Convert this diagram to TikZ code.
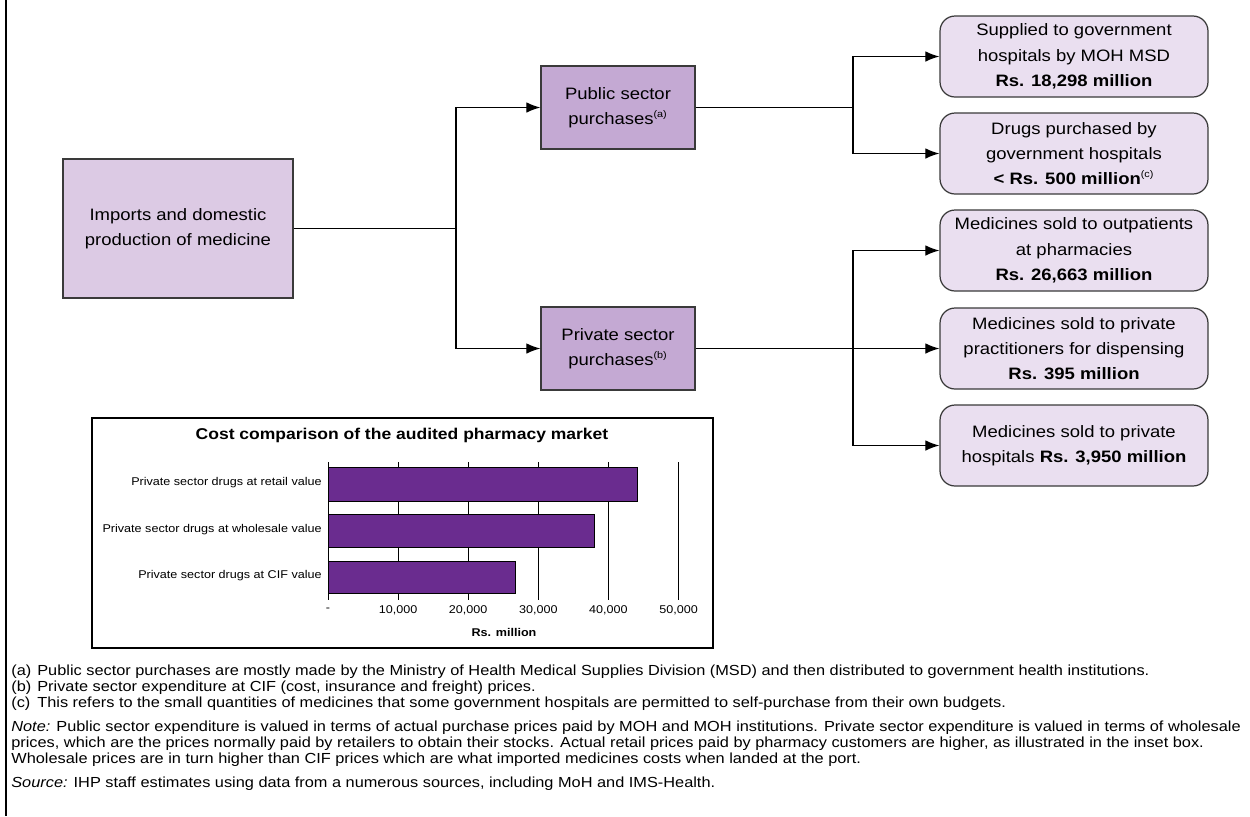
\documentclass[tikz,border=0pt]{standalone}
\usepackage{fontspec}
\setmainfont{Liberation Sans}[FakeStretch=1.12]
\usetikzlibrary{positioning,arrows.meta,calc}
\definecolor{srcfill}{HTML}{DCCAE4}
\definecolor{secfill}{HTML}{C4A9D3}
\definecolor{outfill}{HTML}{EADFF0}
\definecolor{barfill}{HTML}{6A2C8F}
\definecolor{boxline}{HTML}{3A3A3A}
\newcommand{\fnmark}[1]{\textsuperscript{\fontsize{5.5}{6}\selectfont(#1)}}
\tikzset{
    flow/.style = {
        draw=boxline,
        align=center,
        line width=0.7pt,
        inner sep=2pt,
        font=\fontsize{9.4}{14.4}\selectfont
    },
    srcbox/.style = {
        flow,
        fill=srcfill,
        minimum width=4.6cm,
        minimum height=2.78cm
    },
    sectorbox/.style = {
        flow,
        fill=secfill,
        minimum width=3.08cm,
        minimum height=1.66cm
    },
    outbox/.style = {
        flow,
        fill=outfill,
        rounded corners=0.3cm,
        minimum width=5.36cm,
        minimum height=1.62cm
    },
    link/.style = {line width=0.7pt},
    catlabel/.style = {font=\fontsize{6.4}{8}\selectfont, anchor=east, inner sep=0pt},
    ticklabel/.style = {font=\fontsize{6.4}{8}\selectfont, inner sep=0pt},
    bar/.style = {draw=black, line width=0.4pt, fill=barfill},
    fnote/.style = {font=\fontsize{8.3}{10}\selectfont, anchor=base west, inner sep=0pt},
    >={Latex[length=8pt,width=6pt]},
}

\begin{document}
\begin{tikzpicture}[x=0.02cm, y=-0.02cm]
    \useasboundingbox (0,0) rectangle (1250,816);
    \draw[line width=0.6pt] (6,0) -- (6,816);

    % flow chart
    \node[srcbox] (imports) at (178,228.5) {Imports and domestic\\production of medicine};
    \node[sectorbox] (public) at (618,107.5) {Public sector\\purchases\fnmark{a}};
    \node[sectorbox] (private) at (618,348.5) {Private sector\\purchases\fnmark{b}};

    \node[outbox] (supplied) at (1074,56.5) {Supplied to government\\hospitals by MOH MSD\\\textbf{Rs. 18,298 million}};
    \node[outbox] (govbuy) at (1074,153.5) {Drugs purchased by\\government hospitals\\\textbf{< Rs. 500 million}\fnmark{c}};
    \node[outbox] (outpat) at (1074,250.5) {Medicines sold to outpatients\\at pharmacies\\\textbf{Rs. 26,663 million}};
    \node[outbox] (practs) at (1074,348.5) {Medicines sold to private\\practitioners for dispensing\\\textbf{Rs. 395 million}};
    \node[outbox] (privhosp) at (1074,445.5) {Medicines sold to private\\hospitals \textbf{Rs. 3,950 million}};

    \coordinate (split) at (456,228.5);
    \coordinate (pubsplit) at (853,107.5);
    \coordinate (privsplit) at (853,348.5);

    \draw[link] (imports) -- (split);
    \draw[link, ->] (split) |- (public);
    \draw[link, ->] (split) |- (private);
    \draw[link] (public) -- (pubsplit);
    \draw[link, ->] (pubsplit) |- (supplied);
    \draw[link, ->] (pubsplit) |- (govbuy);
    \draw[link, ->] (private) -- (practs);
    \draw[link, ->] (privsplit) |- (outpat);
    \draw[link, ->] (privsplit) |- (privhosp);

    % inset chart
    \draw[line width=0.6pt] (92,418) rectangle (713,648);
    \node[font=\fontsize{8.9}{11}\selectfont\bfseries] (charttitle) at (402,435) {Cost comparison of the audited pharmacy market};
    \foreach \k in {1,...,5}
        \draw[line width=0.4pt] (328+70.1*\k,462) -- (328+70.1*\k,600);
    \draw[line width=0.4pt] (328,462) -- (328,600);
    \draw[bar] (328,467) rectangle (637,501);
    \draw[bar] (328,514) rectangle (594,547);
    \draw[bar] (328,561) rectangle (515,593);
    \node[catlabel] (retail) at (322,483) {Private sector drugs at retail value};
    \node[catlabel] (wholesale) at (322,530) {Private sector drugs at wholesale value};
    \node[catlabel] (cif) at (322,576) {Private sector drugs at CIF value};
    \node[ticklabel] (t0) at (328,610) {-};
    \foreach \k/\v in {1/{10,000},2/{20,000},3/{30,000},4/{40,000},5/{50,000}}
        \node[ticklabel] (t\k) at (328+70.1*\k,610) {\v};
    \node[ticklabel, font=\fontsize{6.4}{8}\selectfont\bfseries] (unit) at (504,632) {Rs. million};

    % notes
    \node[fnote] (fa) at (11,675) {(a)};
    \node[fnote] (fatext) at (37,675) {Public sector purchases are mostly made by the Ministry of Health Medical Supplies Division (MSD) and then distributed to government health institutions.};
    \node[fnote] (fb) at (11,691) {(b)};
    \node[fnote] (fbtext) at (37,691) {Private sector expenditure at CIF (cost, insurance and freight) prices.};
    \node[fnote] (fc) at (11,707) {(c)};
    \node[fnote] (fctext) at (37,707) {This refers to the small quantities of medicines that some government hospitals are permitted to self-purchase from their own budgets.};
    \node[fnote] (note1) at (11,731) {\textit{Note:} Public sector expenditure is valued in terms of actual purchase prices paid by MOH and MOH institutions. Private sector expenditure is valued in terms of wholesale};
    \node[fnote] (note2) at (11,747) {prices, which are the prices normally paid by retailers to obtain their stocks. Actual retail prices paid by pharmacy customers are higher, as illustrated in the inset box.};
    \node[fnote] (note3) at (11,763) {Wholesale prices are in turn higher than CIF prices which are what imported medicines costs when landed at the port.};
    \node[fnote] (source) at (11,787) {\textit{Source:} IHP staff estimates using data from a numerous sources, including MoH and IMS-Health.};
\end{tikzpicture}
\end{document}
